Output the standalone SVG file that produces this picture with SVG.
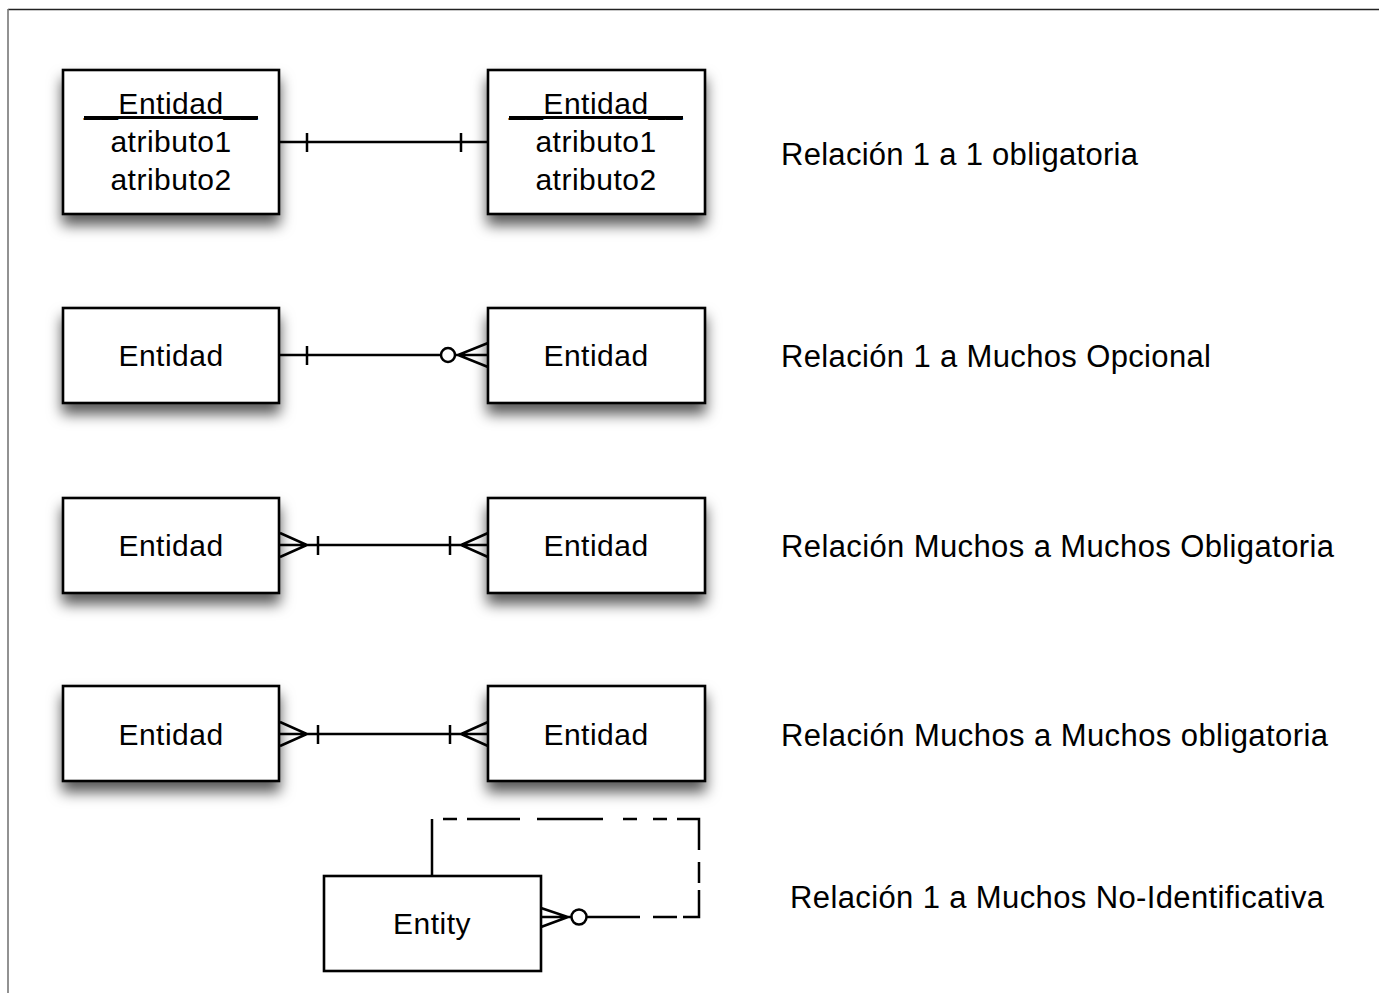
<svg xmlns="http://www.w3.org/2000/svg" width="1379" height="993" viewBox="0 0 1379 993">
  <defs>
    <filter id="shadow" x="-20%" y="-20%" width="140%" height="170%">
      <feDropShadow dx="0" dy="10" stdDeviation="7" flood-color="#000" flood-opacity="0.65"/>
    </filter>
  </defs>
  <style>
    .box { fill: #fff; stroke: #000; stroke-width: 2.6; }
    .shadowed { filter: url(#shadow); }
    .txt { font-family: "Liberation Sans", Arial, sans-serif; font-size: 30px; fill: #000; letter-spacing: 0.5px; }
    .mid { text-anchor: middle; }
    .label { font-family: "Liberation Sans", Arial, sans-serif; font-size: 31px; fill: #000; }
    .ln { fill: none; stroke: #000; stroke-width: 2.5; }
    .ring { fill: #fff; stroke: #000; stroke-width: 2.5; }
  </style>

  <rect width="1379" height="993" fill="#fff"/>
  <!-- page frame -->
  <line x1="8" y1="9.5" x2="1379" y2="9.5" stroke="#222" stroke-width="1.6"/>
  <line x1="8" y1="9" x2="8" y2="993" stroke="#777" stroke-width="1.6"/>

  <!-- row 1 -->
  <g id="entidad-1a">
    <rect class="box shadowed" x="63" y="70" width="216" height="144"/>
    <text class="txt mid" x="171" y="114" text-decoration="underline">__Entidad__</text>
    <text class="txt mid" x="171" y="152">atributo1</text>
    <text class="txt mid" x="171" y="190">atributo2</text>
  </g>
  <g id="entidad-1b">
    <rect class="box shadowed" x="488" y="70" width="217" height="144"/>
    <text class="txt mid" x="596" y="114" text-decoration="underline">__Entidad__</text>
    <text class="txt mid" x="596" y="152">atributo1</text>
    <text class="txt mid" x="596" y="190">atributo2</text>
  </g>

  <!-- row 2 -->
  <g id="entidad-2a">
    <rect class="box shadowed" x="63" y="308" width="216" height="95"/>
    <text class="txt mid" x="171" y="366">Entidad</text>
  </g>
  <g id="entidad-2b">
    <rect class="box shadowed" x="488" y="308" width="217" height="95"/>
    <text class="txt mid" x="596" y="366">Entidad</text>
  </g>

  <!-- row 3 -->
  <g id="entidad-3a">
    <rect class="box shadowed" x="63" y="498" width="216" height="95"/>
    <text class="txt mid" x="171" y="556">Entidad</text>
  </g>
  <g id="entidad-3b">
    <rect class="box shadowed" x="488" y="498" width="217" height="95"/>
    <text class="txt mid" x="596" y="556">Entidad</text>
  </g>

  <!-- row 4 -->
  <g id="entidad-4a">
    <rect class="box shadowed" x="63" y="686" width="216" height="95"/>
    <text class="txt mid" x="171" y="745">Entidad</text>
  </g>
  <g id="entidad-4b">
    <rect class="box shadowed" x="488" y="686" width="217" height="95"/>
    <text class="txt mid" x="596" y="745">Entidad</text>
  </g>

  <!-- row 5 -->
  <g id="entity">
    <rect class="box" x="324" y="876" width="217" height="95"/>
    <text class="txt mid" x="432" y="934">Entity</text>
  </g>

  <g id="connectors">
    <!-- 1 to 1 mandatory -->
    <path class="ln" d="M279 142 H488 M307 133 V152 M461 133 V152"/>
    <!-- 1 to many optional -->
    <path class="ln" d="M279 355 H441 M307 346 V365 M455 355 H488 M488 343 L458 355 L488 367"/>
    <circle class="ring" cx="448" cy="355" r="7"/>
    <!-- many to many mandatory -->
    <path class="ln" d="M279 545 H488 M280 533 L307 545 L280 557 M318 536 V555 M450 536 V555 M488 533 L461 545 L488 557"/>
    <path class="ln" d="M279 734 H488 M280 722 L307 734 L280 746 M318 725 V744 M450 725 V744 M488 722 L461 734 L488 746"/>
    <!-- non-identifying self relation -->
    <path class="ln" d="M432 876 V819 M443 819 H457 M467 819 H520 M537 819 H603 M623 819 H637 M653 819 H667 M677 819 H699 V850 M699 862 V883 M699 890 V917 H683 M677 917 H653 M640 917 H586"/>
    <path class="ln" d="M541 908 L568 917 L541 927 M541 917 H572"/>
    <circle class="ring" cx="579" cy="917" r="7.5"/>
  </g>

  <g id="labels">
    <text class="label" x="781" y="165" textLength="357" lengthAdjust="spacing">Relación 1 a 1 obligatoria</text>
    <text class="label" x="781" y="367" textLength="430" lengthAdjust="spacing">Relación 1 a Muchos Opcional</text>
    <text class="label" x="781" y="557" textLength="553" lengthAdjust="spacing">Relación Muchos a Muchos Obligatoria</text>
    <text class="label" x="781" y="746" textLength="547" lengthAdjust="spacing">Relación Muchos a Muchos obligatoria</text>
    <text class="label" x="790" y="908" textLength="534" lengthAdjust="spacing">Relación 1 a Muchos No-Identificativa</text>
  </g>
</svg>
